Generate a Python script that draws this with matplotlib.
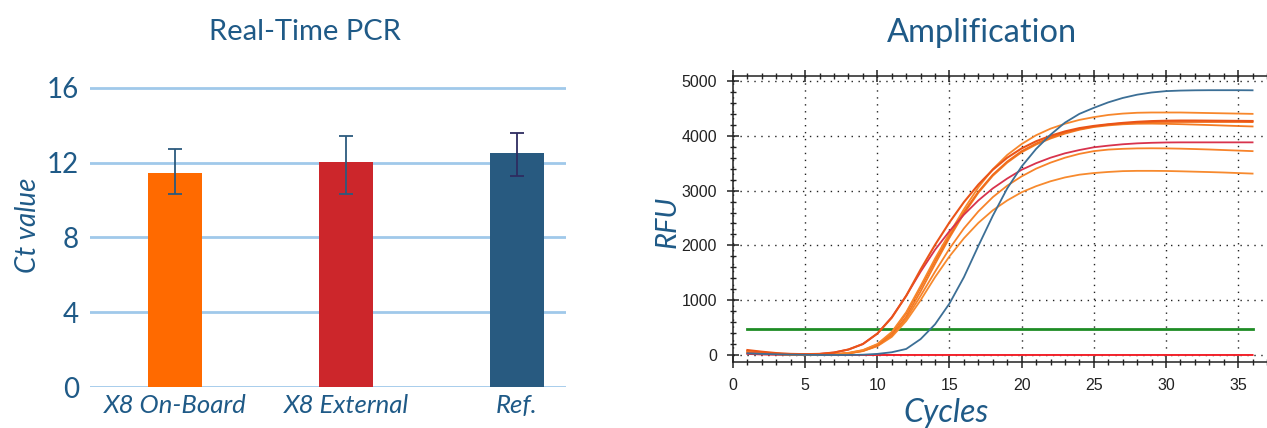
import matplotlib
matplotlib.use("Agg")
import matplotlib.pyplot as plt
from matplotlib.ticker import MultipleLocator
import numpy as np

# ---- left chart data (Real-Time PCR) ----
categories = ["X8 On-Board", "X8 External", "Ref."]
ct_mean = [11.45, 12.05, 12.5]
ct_low = [10.3, 10.3, 11.3]
ct_high = [12.75, 13.45, 13.6]

# ---- right chart data (Amplification curves, RFU per cycle 1..36) ----
cycles = list(range(1, 37))
blue_ref = [30, 20, 12, 6, 3, 0, 0, 0, 5, 20, 50, 110, 290, 560, 940, 1420, 1990, 2540,
            3040, 3440, 3760, 4020, 4240, 4400, 4510, 4610, 4690, 4750, 4790, 4815,
            4825, 4830, 4832, 4832, 4832, 4830]
orange_early = [90, 60, 35, 20, 15, 20, 45, 100, 200, 390, 680, 1080, 1560, 2010, 2420,
                2790, 3110, 3380, 3600, 3770, 3900, 4000, 4080, 4140, 4180, 4210, 4235,
                4255, 4268, 4275, 4278, 4278, 4276, 4274, 4272, 4270]
crimson = [30, 25, 20, 15, 15, 20, 45, 100, 200, 390, 690, 1080, 1520, 1920, 2260, 2560,
           2820, 3040, 3220, 3380, 3500, 3600, 3680, 3740, 3790, 3820, 3845, 3862, 3872,
           3878, 3880, 3880, 3880, 3880, 3880, 3880]
orange_a = [80, 50, 25, 10, 5, 5, 15, 40, 90, 200, 420, 780, 1260, 1760, 2220, 2660,
            3060, 3390, 3650, 3850, 4010, 4130, 4220, 4290, 4340, 4380, 4405, 4420, 4425,
            4425, 4425, 4420, 4415, 4410, 4405, 4400]
orange_b = [70, 45, 25, 10, 5, 5, 15, 35, 85, 190, 400, 760, 1230, 1720, 2180, 2610,
            2980, 3290, 3530, 3720, 3860, 3970, 4060, 4120, 4170, 4205, 4228, 4242, 4250,
            4252, 4252, 4252, 4252, 4252, 4252, 4250]
orange_d = [60, 40, 20, 10, 5, 5, 10, 30, 75, 170, 360, 700, 1160, 1660, 2140, 2580,
            2960, 3270, 3510, 3700, 3840, 3950, 4040, 4110, 4160, 4190, 4210, 4220, 4222,
            4218, 4212, 4204, 4196, 4187, 4178, 4170]
orange_e = [50, 35, 20, 10, 5, 5, 10, 30, 75, 170, 350, 660, 1080, 1520, 1940, 2310,
            2620, 2880, 3090, 3260, 3400, 3510, 3600, 3670, 3720, 3748, 3762, 3770, 3772,
            3770, 3765, 3758, 3750, 3740, 3730, 3720]
orange_f = [40, 30, 15, 5, 0, 0, 10, 30, 70, 160, 330, 620, 1000, 1420, 1800, 2130, 2410,
            2640, 2820, 2970, 3080, 3170, 3240, 3290, 3320, 3340, 3355, 3360, 3360, 3358,
            3352, 3345, 3338, 3330, 3320, 3310]
neg_ctrl = [20, 10, 5, 2, 0, 0, 0, 0, 0, 0, 0, 0, 0, 0, 0, 0, 0, 0, 0, 0, 0, 0, 0, 0, 0,
            0, 0, 0, 0, 0, 0, 0, 0, 0, 0, 0]
threshold = [470] * 36

text_blue = "#1f5a87"
W, H = 1267, 428

fig = plt.figure(figsize=(W / 100, H / 100), dpi=100)

def box(l, t, r, b):
    return [l / W, 1 - b / H, (r - l) / W, (b - t) / H]

# ---------------- left: bar chart ----------------
ax1 = fig.add_axes(box(90, 87, 566, 387))
x = np.arange(len(categories))
bar_colors = ["#ff6a00", "#cc262b", "#285a80"]
err_colors = ["#2c5a7e", "#2c5a7e", "#2e2c60"]
ax1.bar(x, ct_mean, width=0.316, color=bar_colors, zorder=2)
for i in range(len(categories)):
    ax1.errorbar(x[i], ct_mean[i],
                 yerr=[[ct_mean[i] - ct_low[i]], [ct_high[i] - ct_mean[i]]],
                 fmt="none", ecolor=err_colors[i], elinewidth=1.3, capsize=5,
                 capthick=1.3, zorder=3)
ax1.set_xlim(-0.497, 2.287)
ax1.set_ylim(0, 16.05)
ax1.set_yticks([0, 4, 8, 12, 16])
ax1.yaxis.grid(True, color="#a0c9ea", linewidth=2)
ax1.set_axisbelow(True)
for s in ax1.spines.values():
    s.set_visible(False)
ax1.tick_params(axis="both", length=0)
ax1.tick_params(axis="y", pad=8)
ax1.tick_params(axis="x", pad=5)
ax1.set_xticks(x)
ax1.set_xticklabels(categories, family="Lato", style="italic", fontsize=18.5,
                    color=text_blue)
for lab in ax1.get_yticklabels():
    lab.set_family("Lato")
    lab.set_fontsize(20)
    lab.set_color(text_blue)
fig.text(305 / W, 1 - 32 / H, "Real-Time PCR", ha="center", va="center",
         family="Lato", fontsize=21, color=text_blue)
fig.text(28 / W, 1 - 225 / H, "Ct value", ha="center", va="center", rotation=90,
         family="Lato", style="italic", fontsize=20, color=text_blue)

# ---------------- right: amplification ----------------
ax2 = fig.add_axes(box(733, 76, 1267, 362))
ax2.set_xlim(0, 37.0)
ax2.set_ylim(-128, 5091)
ax2.plot(cycles, neg_ctrl, color="#f2232b", lw=1.4)
ax2.plot(cycles, threshold, color="#1e8c25", lw=2)
ax2.plot(cycles, orange_f, color="#f78a2e", lw=1.3)
ax2.plot(cycles, orange_e, color="#f7832a", lw=1.3)
ax2.plot(cycles, orange_d, color="#f47b22", lw=1.3)
ax2.plot(cycles, orange_b, color="#f06c1c", lw=1.3)
ax2.plot(cycles, orange_a, color="#f7872c", lw=1.3)
ax2.plot(cycles, crimson, color="#d8334d", lw=1.3)
ax2.plot(cycles, orange_early, color="#ea5418", lw=1.5)
ax2.plot(cycles, blue_ref, color="#3c6f96", lw=1.3)

ax2.xaxis.set_major_locator(MultipleLocator(5))
ax2.xaxis.set_minor_locator(MultipleLocator(1))
ax2.yaxis.set_major_locator(MultipleLocator(1000))
ax2.yaxis.set_minor_locator(MultipleLocator(200))
ax2.grid(True, which="major", color="#222222", linestyle=(0, (1, 4)), linewidth=1)
ax2.tick_params(which="major", direction="inout", length=9, width=1.1,
                labelsize=11.5, colors="#222222", top=True)
ax2.tick_params(which="minor", direction="inout", length=5, width=1,
                top=True, colors="#222222")
ax2.tick_params(axis="x", which="both", top=True)
ax2.spines["right"].set_visible(False)
for s in ["left", "bottom", "top"]:
    ax2.spines[s].set_linewidth(1.1)
    ax2.spines[s].set_color("#222222")
for lab in ax2.get_xticklabels() + ax2.get_yticklabels():
    lab.set_family("Liberation Sans")
ax2.tick_params(axis="x", pad=7)
ax2.tick_params(axis="y", pad=7)
fig.text(982 / W, 1 - 33 / H, "Amplification", ha="center", va="center",
         family="Lato", fontsize=23.5, color=text_blue)
fig.text(668 / W, 1 - 222 / H, "RFU", ha="center", va="center", rotation=90,
         family="Lato", style="italic", fontsize=21, color=text_blue)
fig.text(946 / W, 1 - 413 / H, "Cycles", ha="center", va="center",
         family="Lato", style="italic", fontsize=23, color=text_blue)

fig.savefig("out.png", dpi=100)
